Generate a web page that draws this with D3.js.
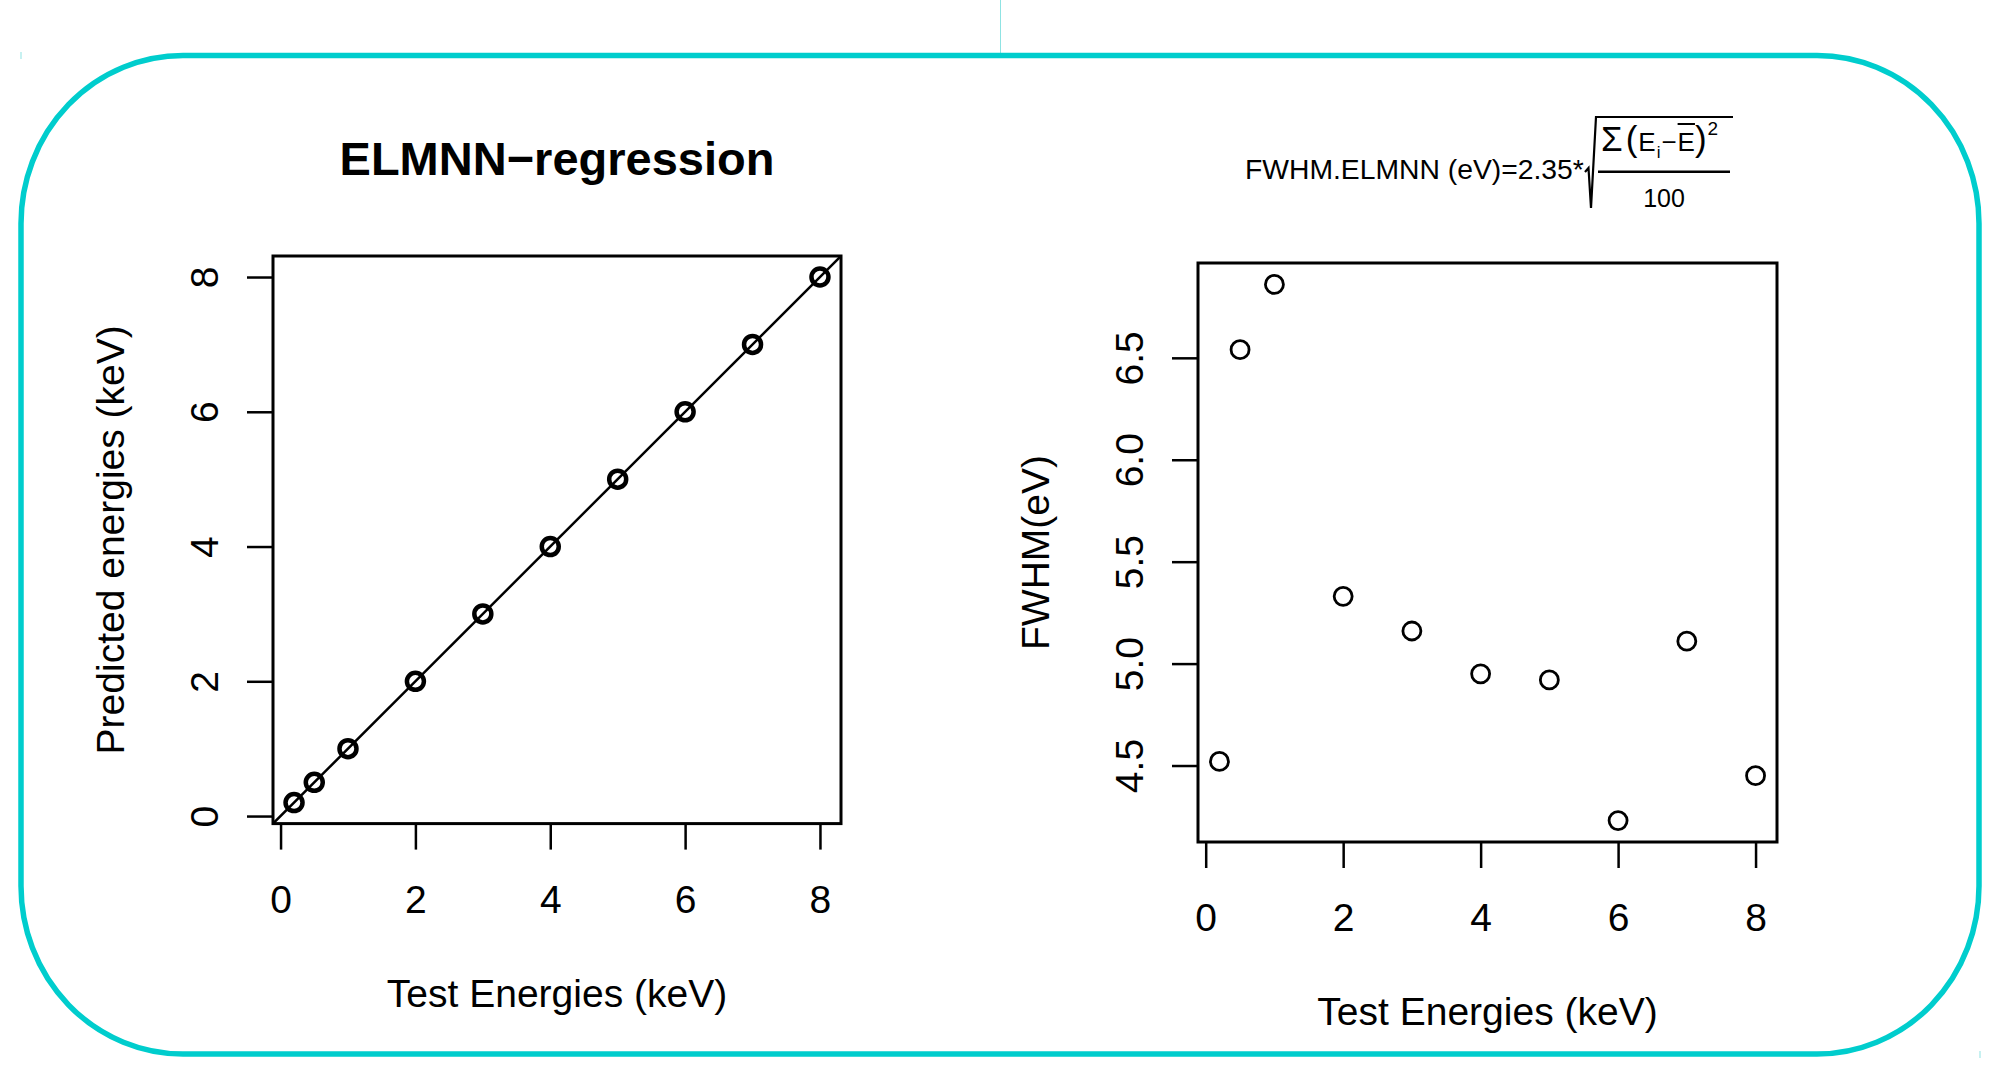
<!DOCTYPE html>
<html>
<head>
<meta charset="utf-8">
<script src="https://cdn.jsdelivr.net/npm/d3@7"></script>
<style>
  html, body { margin: 0; padding: 0; background: #ffffff; }
  svg { display: block; }
  text { font-family: "Liberation Sans", Arial, Helvetica, sans-serif; fill: #000; }
</style>
</head>
<body>
<script>
// ---------------- data ----------------
const testEnergies      = [0.2, 0.5, 1, 2, 3, 4, 5, 6, 7, 8];
const predictedEnergies = [0.2, 0.5, 1, 2, 3, 4, 5, 6, 7, 8];
const fwhmValues        = [4.52, 6.54, 6.86, 5.33, 5.16, 4.95, 4.92, 4.23, 5.11, 4.45];
const xTickValues       = [0, 2, 4, 6, 8];
const yTickValuesLeft   = [0, 2, 4, 6, 8];
const yTickValuesRight  = [4.5, 5.0, 5.5, 6.0, 6.5];
const leftTitle   = "ELMNN\u2212regression";
const xAxisTitle  = "Test Energies (keV)";
const yTitleLeft  = "Predicted energies (keV)";
const yTitleRight = "FWHM(eV)";

// ---------------- layout ----------------
const W = 2002, H = 1082;
const FONT = 39;
const svg = d3.select("body").append("svg").attr("width", W).attr("height", H);
svg.append("rect").attr("width", W).attr("height", H).attr("fill", "#fff");

// decorative frame
const cyan = "#00CDCD";
svg.append("line").attr("x1", 1000.5).attr("x2", 1000.5).attr("y1", 0).attr("y2", 53)
  .attr("stroke", "#8fe3e3").attr("stroke-width", 1);
svg.append("line").attr("x1", 21).attr("x2", 21).attr("y1", 52).attr("y2", 59)
  .attr("stroke", "#8fe3e3").attr("stroke-width", 1);
svg.append("line").attr("x1", 1980).attr("x2", 1980).attr("y1", 1051).attr("y2", 1058)
  .attr("stroke", "#8fe3e3").attr("stroke-width", 1);
svg.append("rect").attr("x", 21).attr("y", 55.5).attr("width", 1958).attr("height", 998.5)
  .attr("rx", 162).attr("ry", 168).attr("fill", "none")
  .attr("stroke", cyan).attr("stroke-width", 5.5);

// R-style axis range: extend data range by 4% each side
function rDomain(vals) {
  const e = d3.extent(vals); const d = (e[1] - e[0]) * 0.04;
  return [e[0] - d, e[1] + d];
}

function panel(opts) {
  const { x0, x1, y0, y1, xVals, yVals, yTicks, yFmt, yTitle, id } = opts;
  const g = svg.append("g");
  const x = d3.scaleLinear().domain(rDomain(xVals)).range([x0, x1]);
  const y = d3.scaleLinear().domain(rDomain(yVals)).range([y1, y0]);

  // x axis
  const xa = g.append("g").attr("transform", `translate(0,${y1})`)
    .call(d3.axisBottom(x).tickValues(xTickValues).tickSize(26).tickSizeOuter(0).tickFormat(d3.format("d")));
  xa.select(".domain").remove();
  xa.selectAll(".tick line").attr("stroke", "#000").attr("stroke-width", 2.5);
  xa.selectAll(".tick text").attr("y", 89).attr("dy", 0).attr("font-size", FONT)
    .style("font-family", '"Liberation Sans", Arial, sans-serif').attr("fill", "#000");

  // y axis
  const ya = g.append("g").attr("transform", `translate(${x0},0)`)
    .call(d3.axisLeft(y).tickValues(yTicks).tickSize(26).tickSizeOuter(0).tickFormat(yFmt));
  ya.select(".domain").remove();
  ya.selectAll(".tick line").attr("stroke", "#000").attr("stroke-width", 2.5);
  ya.selectAll(".tick text")
    .attr("x", 0).attr("y", 0).attr("dy", 0)
    .attr("text-anchor", "middle")
    .attr("transform", "translate(-55.5,0) rotate(-90)")
    .attr("font-size", FONT)
    .style("font-family", '"Liberation Sans", Arial, sans-serif').attr("fill", "#000");

  // axis titles
  g.append("text").attr("x", (x0 + x1) / 2).attr("y", y1 + 183)
    .attr("text-anchor", "middle").attr("font-size", FONT).text(xAxisTitle);
  g.append("text").attr("text-anchor", "middle").attr("font-size", FONT)
    .attr("transform", `translate(${x0 - 149.5},${(y0 + y1) / 2}) rotate(-90)`)
    .text(yTitle);

  // clip
  svg.append("clipPath").attr("id", id).append("rect")
    .attr("x", x0).attr("y", y0).attr("width", x1 - x0).attr("height", y1 - y0);

  return { g, x, y };
}

// ---------------- left panel ----------------
const L = panel({ x0: 273, x1: 841, y0: 256, y1: 823.6,
  xVals: testEnergies, yVals: predictedEnergies, yTicks: yTickValuesLeft,
  yFmt: d3.format("d"), yTitle: yTitleLeft, id: "clipL" });

// abline y = x
const lineDom = L.x.domain();
L.g.append("line").attr("clip-path", "url(#clipL)")
  .attr("x1", L.x(lineDom[0])).attr("y1", L.y(lineDom[0]))
  .attr("x2", L.x(lineDom[1])).attr("y2", L.y(lineDom[1]))
  .attr("stroke", "#000").attr("stroke-width", 2.5);

L.g.selectAll("circle.pt").data(testEnergies).join("circle")
  .attr("cx", (d) => L.x(d)).attr("cy", (d, i) => L.y(predictedEnergies[i]))
  .attr("r", 8.5).attr("fill", "none").attr("stroke", "#000").attr("stroke-width", 4.5);

L.g.append("rect").attr("x", 273).attr("y", 256).attr("width", 841 - 273).attr("height", 823.6 - 256)
  .attr("fill", "none").attr("stroke", "#000").attr("stroke-width", 3);

svg.append("text").attr("x", 557).attr("y", 175).attr("text-anchor", "middle")
  .attr("font-size", 47).attr("font-weight", "bold").text(leftTitle);

// ---------------- right panel ----------------
const R = panel({ x0: 1198, x1: 1777, y0: 263, y1: 842,
  xVals: testEnergies, yVals: fwhmValues, yTicks: yTickValuesRight,
  yFmt: d3.format(".1f"), yTitle: yTitleRight, id: "clipR" });

R.g.selectAll("circle.pt").data(testEnergies).join("circle")
  .attr("cx", (d) => R.x(d)).attr("cy", (d, i) => R.y(fwhmValues[i]))
  .attr("r", 9).attr("fill", "none").attr("stroke", "#000").attr("stroke-width", 2.8);

R.g.append("rect").attr("x", 1198).attr("y", 263).attr("width", 1777 - 1198).attr("height", 842 - 263)
  .attr("fill", "none").attr("stroke", "#000").attr("stroke-width", 3);

// ---------------- formula ----------------
const f = svg.append("g");
f.append("text").attr("x", 1245).attr("y", 178.5).attr("font-size", 28.3)
  .text("FWHM.ELMNN (eV)=2.35*");
f.append("path").attr("d", "M1585,172 L1588.5,168 L1591,208 L1596,117 L1733,117")
  .attr("fill", "none").attr("stroke", "#000").attr("stroke-width", 2.2);
f.append("line").attr("x1", 1598).attr("x2", 1730).attr("y1", 171.7).attr("y2", 171.7)
  .attr("stroke", "#000").attr("stroke-width", 2.5);
// numerator: Σ(E_i − Ē)^2, glyphs flow naturally
const num = f.append("text").attr("x", 1601).attr("y", 150.5).attr("font-size", 26);
num.append("tspan").attr("font-size", 35).text("\u03A3");
num.append("tspan").attr("dx", 3).attr("font-size", 35).text("(");
const e1 = num.append("tspan").attr("dx", 1).text("E");
num.append("tspan").attr("dx", 1).attr("dy", 7).attr("font-size", 17).text("i");
num.append("tspan").attr("dx", 1).attr("dy", -7).text("\u2212");
const e2 = num.append("tspan").attr("dx", 1).text("E");
num.append("tspan").attr("font-size", 35).text(")");
num.append("tspan").attr("dx", 1).attr("dy", -15.5).attr("font-size", 19).text("2");
// bar over second E, positioned from its rendered extent
const e2start = num.node().getStartPositionOfChar(num.text().indexOf("\u2212") + 1);
const e2end = num.node().getEndPositionOfChar(num.text().indexOf("\u2212") + 1);
f.append("line").attr("x1", e2start.x).attr("x2", e2end.x).attr("y1", 124).attr("y2", 124)
  .attr("stroke", "#000").attr("stroke-width", 2);
f.append("text").attr("x", 1664).attr("y", 206.7).attr("text-anchor", "middle")
  .attr("font-size", 25).text("100");
</script>
</body>
</html>
